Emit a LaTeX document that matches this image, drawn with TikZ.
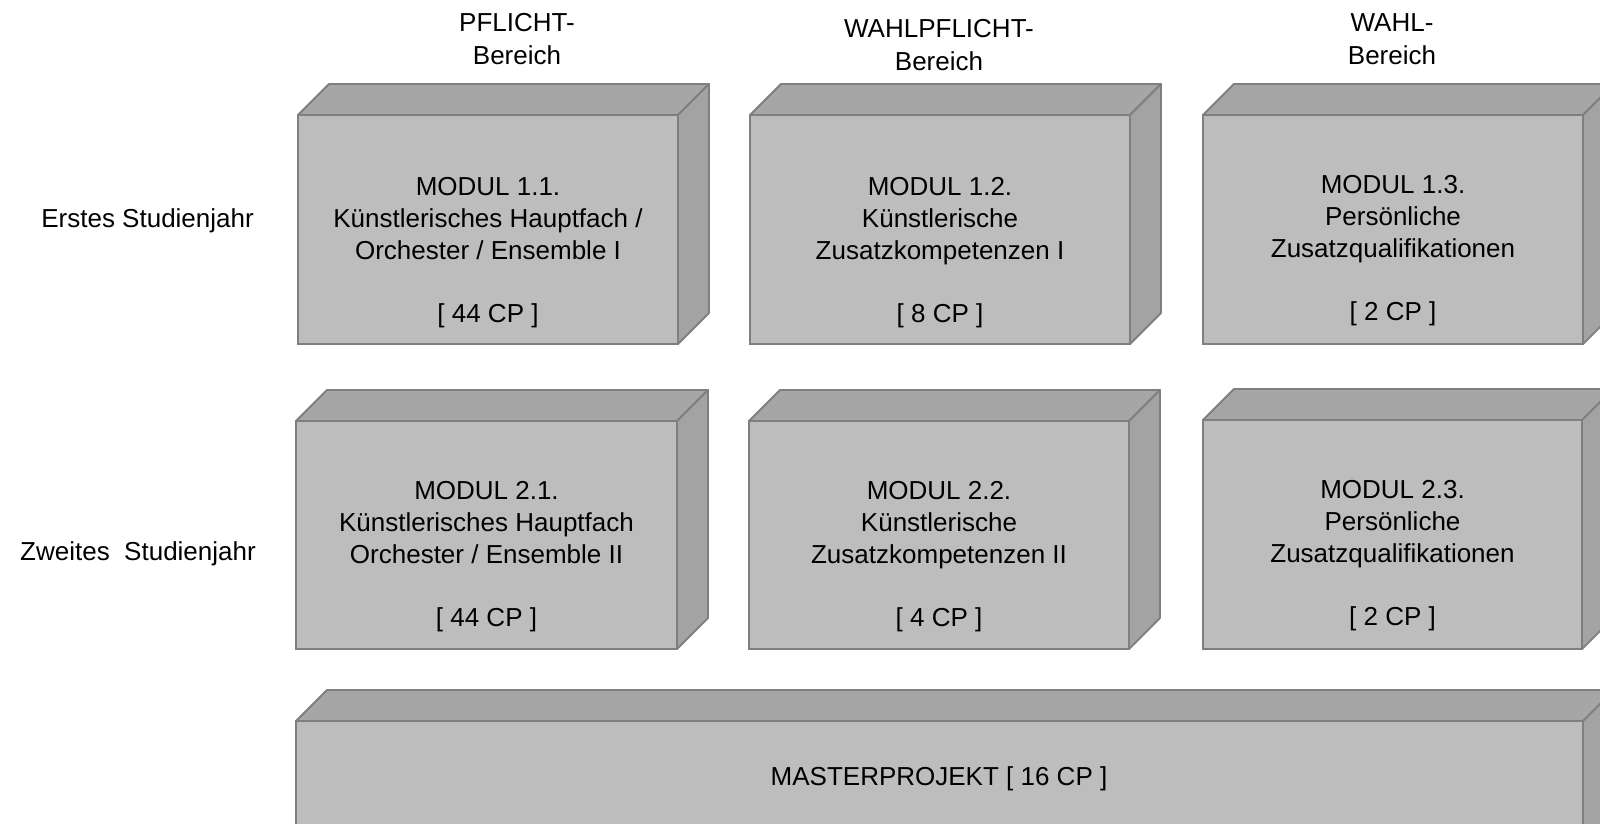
\documentclass[tikz,border=0pt]{standalone}
\usepackage{fontspec}
\setmainfont{Liberation Sans}
\definecolor{frontc}{HTML}{BDBDBD}
\definecolor{topc}{HTML}{A6A6A6}
\definecolor{sidec}{HTML}{A3A3A3}
\definecolor{edgec}{HTML}{7F7F7F}
\tikzset{
  front/.style={draw=edgec, fill=frontc, line width=1.8pt, inner sep=0pt, outer sep=0pt},
  face/.style={draw=edgec, line width=1.8pt, line join=round},
  boxtext/.style={align=center, font=\fontsize{26}{32}\selectfont, inner sep=0pt},
  head/.style={align=center, font=\fontsize{26}{33}\selectfont, inner sep=0pt},
  rowlabel/.style={font=\fontsize{26}{32}\selectfont, inner sep=0pt}
}
\newcommand\cubefaces[1]{%
  \draw[face, fill=topc] (#1.north west) -- ++(31,-31) -- ([shift={(31,-31)}]#1.north east) -- (#1.north east) -- cycle;
  \draw[face, fill=sidec] (#1.north east) -- ([shift={(31,-31)}]#1.north east) -- ([shift={(31,-31)}]#1.south east) -- (#1.south east) -- cycle;
}
\begin{document}
\begin{tikzpicture}[x=1pt, y=-1pt]
\useasboundingbox (0,0) rectangle (1600,824);
\clip (0,0) rectangle (1600,824);
% headers
\node[head] (h1) at (517,39) {PFLICHT-\\Bereich};
\node[head] (h2) at (939,45) {WAHLPFLICHT-\\Bereich};
\node[head] (h3) at (1392,39) {WAHL-\\Bereich};
% row labels
\node[rowlabel, anchor=east] (r1) at (254,221) {Erstes Studienjahr};
\node[rowlabel, anchor=east] (r2) at (256,554) {Zweites\ \ Studienjahr};
% row 1
\node[front, minimum width=380pt, minimum height=229pt] (m11) at (488,229.5) {};
\cubefaces{m11}
\node[front, minimum width=380pt, minimum height=229pt] (m12) at (940,229.5) {};
\cubefaces{m12}
\node[front, minimum width=380pt, minimum height=229pt] (m13) at (1393,229.5) {};
\cubefaces{m13}
% row 2
\node[front, minimum width=381pt, minimum height=228pt] (m21) at (486.5,535) {};
\cubefaces{m21}
\node[front, minimum width=380pt, minimum height=228pt] (m22) at (939,535) {};
\cubefaces{m22}
\node[front, minimum width=379pt, minimum height=229pt] (m23) at (1392.5,534.5) {};
\cubefaces{m23}
% master
\node[front, minimum width=1287pt, minimum height=229pt] (mp) at (939.5,835.5) {};
\cubefaces{mp}
% texts
\node[boxtext] (t11) at (m11.center |- 0,252.5) {MODUL 1.1.\\Künstlerisches Hauptfach /\\Orchester / Ensemble I\\[31pt][ 44 CP ]};
\node[boxtext] (t12) at (m12.center |- 0,252.5) {MODUL 1.2.\\Künstlerische\\Zusatzkompetenzen I\\[31pt][ 8 CP ]};
\node[boxtext] (t13) at (m13.center |- 0,251) {MODUL 1.3.\\Persönliche\\Zusatzqualifikationen\\[31pt][ 2 CP ]};
\node[boxtext] (t21) at (m21.center |- 0,557) {MODUL 2.1.\\Künstlerisches Hauptfach\\Orchester / Ensemble II\\[31pt][ 44 CP ]};
\node[boxtext] (t22) at (m22.center |- 0,557) {MODUL 2.2.\\Künstlerische\\Zusatzkompetenzen II\\[31pt][ 4 CP ]};
\node[boxtext] (t23) at (m23.center |- 0,555.5) {MODUL 2.3.\\Persönliche\\Zusatzqualifikationen\\[31pt][ 2 CP ]};
\node[boxtext] (tmp) at (939,779) {MASTERPROJEKT [ 16 CP ]};
\end{tikzpicture}
\end{document}
